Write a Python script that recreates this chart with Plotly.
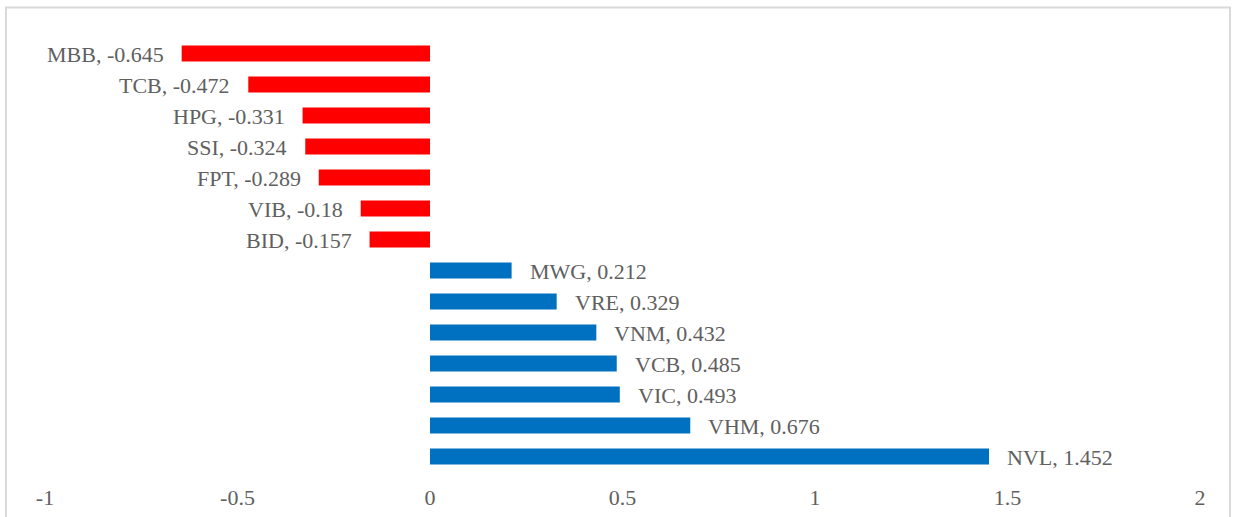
import plotly.graph_objects as go

tickers = ["MBB", "TCB", "HPG", "SSI", "FPT", "VIB", "BID",
           "MWG", "VRE", "VNM", "VCB", "VIC", "VHM", "NVL"]
values = [-0.645, -0.472, -0.331, -0.324, -0.289, -0.18, -0.157,
          0.212, 0.329, 0.432, 0.485, 0.493, 0.676, 1.452]
tick_vals = [-1, -0.5, 0, 0.5, 1, 1.5, 2]
tick_text = ["-1", "-0.5", "0", "0.5", "1", "1.5", "2"]

RED = "#FF0000"
BLUE = "#0070C0"
TXT = "#606060"
FONT = "Liberation Serif"

colors = [RED if v < 0 else BLUE for v in values]

fig = go.Figure(go.Bar(
    x=values, y=tickers, orientation="h",
    marker=dict(color=colors, line=dict(width=0)),
    hoverinfo="x+y",
))

annotations = []
for t, v in zip(tickers, values):
    annotations.append(dict(
        x=v, y=t, xref="x", yref="y",
        text=f"{t}, {v:g}",
        showarrow=False,
        xanchor="right" if v < 0 else "left",
        xshift=-16 if v < 0 else 16,
        yshift=-1,
        font=dict(family=FONT, size=22, color=TXT),
    ))

fig.update_layout(
    width=1236, height=517,
    margin=dict(l=45, r=36, t=37.5, b=44.5),
    paper_bgcolor="white", plot_bgcolor="white",
    bargap=0.48,
    showlegend=False,
    annotations=annotations,
    shapes=[dict(type="rect", xref="paper", yref="paper",
                 x0=-0.0338, x1=1.026, y0=-0.12, y1=1.07,
                 line=dict(color="#D9D9D9", width=2), layer="below")],
    xaxis=dict(range=[-1, 2], tickvals=tick_vals, ticktext=tick_text,
               showgrid=False, zeroline=False, showline=False,
               ticks="", ticklabelstandoff=10, automargin=False,
               tickfont=dict(family=FONT, size=22, color=TXT),
               fixedrange=True),
    yaxis=dict(autorange="reversed", showticklabels=False, showgrid=False,
               zeroline=False, showline=False, ticks="", fixedrange=True,
               automargin=False),
)

fig.write_html("out.html", config={"displayModeBar": False},
               post_script="document.body.style.margin='0';")
